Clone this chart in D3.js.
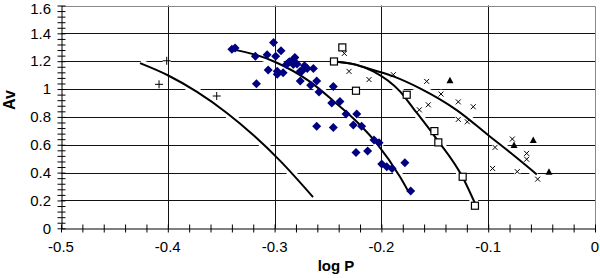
<!DOCTYPE html>
<html>
<head>
<meta charset="utf-8">
<script src="https://cdnjs.cloudflare.com/ajax/libs/d3/7.8.5/d3.min.js"></script>
<style>
body{margin:0;background:#fff;}
svg{display:block;font-family:"Liberation Sans",Arial,sans-serif;}
</style>
</head>
<body>
<div id="chart"></div>
<script>
// axis ticks
var xTicks=[-0.5,-0.4,-0.3,-0.2,-0.1,0];
var xTickLabels=["-0.5","-0.4","-0.3","-0.2","-0.1","0"];
var yTicks=[0,0.2,0.4,0.6,0.8,1,1.2,1.4,1.6];
var yTickLabels=["0","0.2","0.4","0.6","0.8","1","1.2","1.4","1.6"];

// blue diamonds
var diamondX=[-0.340,-0.337,-0.318,-0.317,-0.307,-0.306,-0.301,-0.299,-0.2975,-0.2975,-0.294,-0.292,-0.289,-0.286,-0.283,-0.2825,-0.281,-0.276,-0.276,-0.2746,-0.272,-0.2694,-0.2662,-0.2637,-0.2606,-0.2584,-0.2606,-0.2465,-0.245,-0.245,-0.2388,-0.2331,-0.2231,-0.2263,-0.2185,-0.2238,-0.2129,-0.2069,-0.2022,-0.1997,-0.195,-0.19,-0.178,-0.1726,-0.287,-0.279];
var diamondY=[1.285,1.295,1.236,1.038,1.246,1.137,1.335,1.236,1.107,1.127,1.275,1.117,1.177,1.196,1.206,1.177,1.226,1.127,1.058,1.127,1.167,1.147,1.028,1.147,1.058,0.979,0.732,0.90,1.019,0.723,0.91,0.821,0.821,0.742,0.732,0.545,0.555,0.634,0.614,0.461,0.442,0.430,0.471,0.268,1.19,1.18];
var diamondFitX=[-0.340,-0.320,-0.300,-0.267,-0.245,-0.223,-0.2044,-0.1826,-0.175];
var diamondFitY=[1.285,1.251,1.196,1.053,0.915,0.765,0.61,0.37,0.268];

// open squares
var squareX=[-0.2444,-0.2366,-0.2238,-0.1763,-0.1504,-0.1467,-0.1239,-0.1124];
var squareY=[1.198,1.299,0.988,0.959,0.698,0.617,0.37,0.162];
var squareFitX=[-0.242,-0.225,-0.2076,-0.1826,-0.170,-0.1498,-0.1233,-0.1124];
var squareFitY=[1.196,1.177,1.127,0.983,0.86,0.657,0.358,0.18];

// small crosses
var crossX=[-0.2347,-0.2303,-0.2116,-0.1888,-0.1576,-0.1561,-0.1645,-0.1442,-0.128,-0.114,-0.128,-0.1196,-0.0774,-0.0936,-0.064,-0.064,-0.0959,-0.0728,-0.0537];
var crossY=[1.256,1.127,1.068,1.103,1.055,0.887,0.851,0.964,0.908,0.873,0.782,0.765,0.641,0.581,0.538,0.496,0.43,0.407,0.353];
var crossFitX=[-0.242,-0.225,-0.2078,-0.1888,-0.1639,-0.1295,-0.099,-0.0765,-0.0545];
var crossFitY=[1.196,1.177,1.137,1.091,1.005,0.849,0.663,0.526,0.387];

// triangles
var triX=[-0.1358,-0.0758,-0.0578,-0.0431];
var triY=[1.064,0.598,0.634,0.407];

// plus signs
var plusX=[-0.401,-0.4082,-0.3542];
var plusY=[1.203,1.034,0.95];
var plusFitX=[-0.426,-0.4,-0.373,-0.345,-0.32,-0.295,-0.264];
var plusFitY=[1.186,1.099,0.981,0.83,0.67,0.486,0.224];

var W=600,H=278;
var pLeft=61,pRight=595,pTop=5.5,pBottom=228.3;

var svg=d3.select("#chart").append("svg").attr("width",W).attr("height",H);
var x=d3.scaleLinear().domain([-0.5,0]).range([pLeft,pRight]);
var y=d3.scaleLinear().domain([0,1.6]).range([pBottom,pTop]);

function pts(xs,ys){ return xs.map(function(d,i){return [d,ys[i]];}); }
function at(d){ return "translate("+x(d[0])+","+y(d[1])+")"; }
var line=d3.line().x(function(d){return x(d[0]);}).y(function(d){return y(d[1]);}).curve(d3.curveMonotoneX);
var fits=[pts(diamondFitX,diamondFitY),pts(squareFitX,squareFitY),pts(crossFitX,crossFitY),pts(plusFitX,plusFitY)];

//horizontal grid
svg.append("g").selectAll("line").data(yTicks.slice(1,-1)).enter().append("line")
  .attr("x1",pLeft).attr("x2",pRight)
  .attr("y1",function(d){return Math.round(y(d))+0.5;}).attr("y2",function(d){return Math.round(y(d))+0.5;})
  .attr("stroke","#111").attr("stroke-width",1);

//white halos cut the horizontal grid
svg.append("g").selectAll("path").data(fits).enter().append("path")
  .attr("d",line).attr("fill","none").attr("stroke","#fff").attr("stroke-width",8);
svg.append("g").selectAll("path").data(pts(plusX,plusY)).enter().append("path")
  .attr("transform",at).attr("d","M-4,0H4M0,-4V4").attr("stroke","#fff").attr("stroke-width",6);
svg.append("g").selectAll("path").data(pts(crossX,crossY)).enter().append("path")
  .attr("transform",at).attr("d","M-2.5,-2.5L2.5,2.5M2.5,-2.5L-2.5,2.5").attr("stroke","#fff").attr("stroke-width",6);

//vertical grid
svg.append("g").selectAll("line").data(xTicks.slice(1,-1)).enter().append("line")
  .attr("y1",pTop).attr("y2",pBottom)
  .attr("x1",function(d){return Math.round(x(d))+0.5;}).attr("x2",function(d){return Math.round(x(d))+0.5;})
  .attr("stroke","#111").attr("stroke-width",1);

//border top/right
svg.append("path").attr("d","M"+(pLeft+0.5)+","+(Math.round(pTop)+0.5)+"H"+(pRight+0.5)+"V"+pBottom)
  .attr("fill","none").attr("stroke","#888").attr("stroke-width",1);

//axes
var xMinor=d3.range(-0.5,0.0001,0.02);
var yMinor=d3.range(0,1.6001,0.04);
var gx=svg.append("g").attr("transform","translate(0,"+(Math.round(pBottom)+0.5)+")");
gx.call(d3.axisBottom(x).tickValues(xMinor).tickSize(0).tickFormat("").tickSizeOuter(0));
gx.selectAll(".tick line").attr("y1",-4).attr("y2",4).attr("stroke","#000");
gx.select(".domain").attr("stroke","#000");
svg.append("g").selectAll("text").data(xTicks).enter().append("text")
  .attr("x",function(d){return x(d);}).attr("y",252).attr("text-anchor","middle")
  .attr("font-size",15).attr("fill","#000").text(function(d,i){return xTickLabels[i];});

var gy=svg.append("g").attr("transform","translate("+(pLeft+0.5)+",0)");
gy.call(d3.axisLeft(y).tickValues(yMinor).tickSize(0).tickFormat("").tickSizeOuter(0));
gy.selectAll(".tick line").attr("x1",-4).attr("x2",4).attr("stroke","#000");
gy.select(".domain").attr("stroke","#000");
svg.append("g").selectAll("text").data(yTicks).enter().append("text")
  .attr("x",51).attr("y",function(d){return Math.max(y(d),8.5);}).attr("dy","0.35em").attr("text-anchor","end")
  .attr("font-size",15).attr("fill","#000").text(function(d,i){return yTickLabels[i];});

//titles
svg.append("text").attr("x",336).attr("y",271).attr("text-anchor","middle")
  .attr("font-size",15).attr("font-weight","bold").text("log P");
svg.append("text").attr("transform","translate(15,100) rotate(-90)").attr("text-anchor","middle")
  .attr("font-size",16).attr("font-weight","bold").text("Av");

//fitted curves
svg.append("g").selectAll("path").data(fits).enter().append("path")
  .attr("d",line).attr("fill","none").attr("stroke","#000").attr("stroke-width",2);

//markers
svg.append("g").selectAll("path").data(pts(diamondX,diamondY)).enter().append("path")
  .attr("transform",at).attr("d","M0,-4.5L4.5,0L0,4.5L-4.5,0Z").attr("fill","#000080");
svg.append("g").selectAll("rect").data(pts(squareX,squareY)).enter().append("rect")
  .attr("x",function(d){return x(d[0])-3.5;}).attr("y",function(d){return y(d[1])-3.5;})
  .attr("width",7).attr("height",7).attr("fill","#fff").attr("stroke","#000").attr("stroke-width",1.2);
svg.append("g").selectAll("path").data(pts(crossX,crossY)).enter().append("path")
  .attr("transform",at).attr("d","M-2.5,-2.5L2.5,2.5M2.5,-2.5L-2.5,2.5").attr("stroke","#000").attr("stroke-width",1);
svg.append("g").selectAll("path").data(pts(triX,triY)).enter().append("path")
  .attr("transform",at).attr("d","M0,-3.5L3.5,3L-3.5,3Z").attr("fill","#000");
svg.append("g").selectAll("path").data(pts(plusX,plusY)).enter().append("path")
  .attr("transform",at).attr("d","M-4,0H4M0,-4V4").attr("stroke","#000").attr("stroke-width",1);
</script>
</body>
</html>
